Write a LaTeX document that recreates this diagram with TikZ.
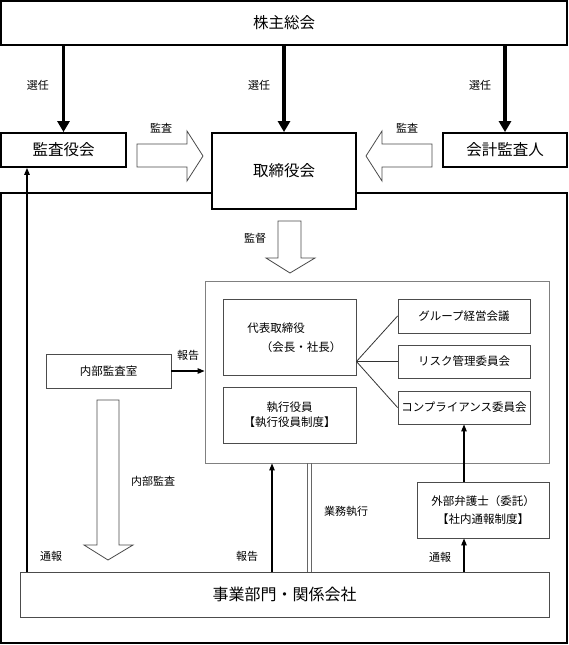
\documentclass[tikz,border=0pt]{standalone}
\usepackage{fontspec}
\setmainfont{Noto Sans CJK JP}
\usetikzlibrary{arrows.meta}
\begin{document}
\begin{tikzpicture}[x=1pt,y=-1pt,
 thickbox/.style={draw=black,line width=1.8pt,fill=white,inner sep=0pt,font=\fontsize{15.5}{18}\selectfont},
 thinbox/.style={draw=black!70,line width=0.9pt,fill=white,inner sep=0pt,align=center,font=\fontsize{11.5}{15}\selectfont},
 graybox/.style={draw=black!50,line width=0.9pt,fill=white,inner sep=0pt},
 lbl/.style={font=\fontsize{11}{13}\selectfont,inner sep=0pt},
 txt/.style={font=\fontsize{11.5}{14}\selectfont,inner sep=0pt},
 selarrow/.style={line width=3.5pt,-{Triangle[width=12pt,length=11pt]}},
 thinarrow/.style={line width=1.2pt,-{Triangle[width=5.5pt,length=7pt]}},
 hollow/.style={draw=black!70,line width=0.8pt,fill=white},
 rail/.style={draw=black!60,line width=1pt},
]
\useasboundingbox (0,0) rectangle (569,645);
\fill[white] (0,0) rectangle (569,645);
% outer frame
\node[draw=black,line width=1.8pt,minimum width=566pt,minimum height=450pt,inner sep=0pt] (outer) at (284,418) {};
% top row
\node[thickbox,minimum width=566pt,minimum height=44pt] (agm) at (284,23) {株主総会};
\node[thickbox,minimum width=125pt,minimum height=34pt] (kansa) at (63.5,150) {監査役会};
\node[thickbox,minimum width=144pt,minimum height=76pt] (board) at (284,171) {取締役会};
\node[thickbox,minimum width=124pt,minimum height=34pt] (auditor) at (505,150) {会計監査人};
% election arrows
\draw[selarrow] (kansa.north |- agm.south) -- (kansa.north);
\draw[selarrow] (board.north |- agm.south) -- (board.north);
\draw[selarrow] (auditor.north |- agm.south) -- (auditor.north);
\node[lbl] (sel1) at (38,85) {選任};
\node[lbl] (sel2) at (259,85) {選任};
\node[lbl] (sel3) at (480,85) {選任};
% audit hollow arrows
\draw[hollow] (137,144) -- (187,144) -- (187,131) -- (203,156) -- (187,181) -- (187,167) -- (137,167) -- cycle;
\draw[hollow] (432,144) -- (382,144) -- (382,131) -- (366,156) -- (382,181) -- (382,167) -- (432,167) -- cycle;
\node[lbl] (aud1) at (161,128) {監査};
\node[lbl] (aud2) at (407,128) {監査};
% supervision arrow
\draw[hollow] (278,221) -- (301,221) -- (301,258) -- (315,258) -- (290,273) -- (266,258) -- (278,258) -- cycle;
\node[lbl] (sup) at (255,238) {監督};
% management container
\node[graybox,minimum width=344pt,minimum height=182pt] (inner) at (377,372) {};
\node[thinbox,minimum width=133pt,minimum height=76pt] (ceo) at (289.5,337) {};
\node[txt] (ceo1) at (276,328) {代表取締役};
\node[txt] (ceo2) at (301,347) {（会長・社長）};
\node[thinbox,minimum width=133pt,minimum height=56pt] (exec) at (289.5,415) {執行役員\\【執行役員制度】};
\node[thinbox,minimum width=132pt,minimum height=34pt] (group) at (464,316) {グループ経営会議};
\node[thinbox,minimum width=132pt,minimum height=33pt] (risk) at (464,361.5) {リスク管理委員会};
\node[thinbox,minimum width=132pt,minimum height=33pt] (comp) at (464,407.5) {コンプライアンス委員会};
\coordinate (hub) at (ceo.east |- risk.west);
\draw[black!80,line width=0.8pt] (hub) -- (group.west);
\draw[black!80,line width=0.8pt] (hub) -- (risk.west);
\draw[black!80,line width=0.8pt] (hub) -- (comp.west);
% internal audit
\node[thinbox,minimum width=125pt,minimum height=34pt] (naibu) at (108.5,371) {内部監査室};
\draw[thinarrow] (naibu.east) -- (naibu.east -| inner.west);
\node[lbl] (rep1) at (188,355) {報告};
\draw[hollow] (97,400) -- (119,400) -- (119,545) -- (133,545) -- (108,560) -- (84,545) -- (97,545) -- cycle;
\node[lbl] (ia) at (153,481) {内部監査};
% business
\node[thinbox,minimum width=529pt,minimum height=45pt,font=\fontsize{16}{18}\selectfont] (biz) at (284.5,594.5) {事業部門・関係会社};
\node[thinbox,minimum width=132pt,minimum height=56pt,font=\fontsize{11.5}{18}\selectfont] (lawyer) at (483,510) {外部弁護士（委託）\\【社内通報制度】};
% connectors from business
\coordinate (wb) at (27,572);
\draw[thinarrow] (wb) -- (wb |- kansa.south);
\node[lbl] (rpt1) at (51,556) {通報};
\coordinate (rb) at (272,572);
\draw[thinarrow] (rb) -- (rb |- inner.south);
\node[lbl] (rep2) at (247,556) {報告};
\coordinate (xa) at (307,572);
\coordinate (xc) at (311.5,572);
\draw[rail] (xa |- inner.south) -- (xa);
\draw[rail] (xc |- inner.south) -- (xc);
\node[lbl] (exe) at (346,511) {業務執行};
\draw[thinarrow] (comp.south |- biz.north) -- (comp.south |- lawyer.south);
\draw[thinarrow] (comp.south |- lawyer.north) -- (comp.south);
\node[lbl] (rpt2) at (440,557) {通報};
\end{tikzpicture}
\end{document}
